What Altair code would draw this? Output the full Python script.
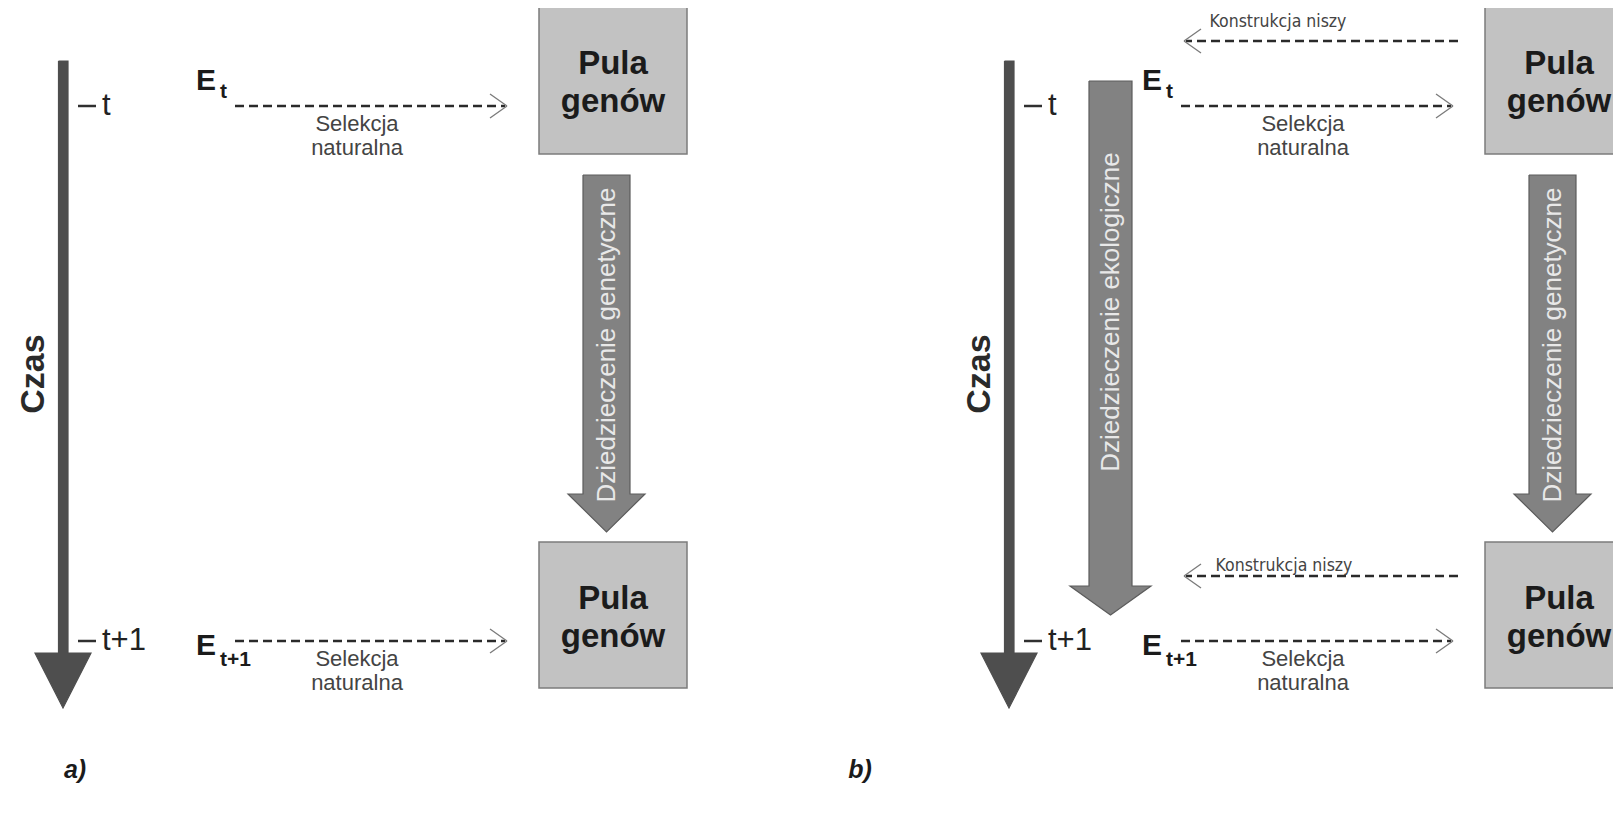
import altair as alt
import pandas as pd

# ---------------- diagram data (reference pixel space, y grows downward) ----------------
PANEL_DX = [0, 946]                 # horizontal offset of panel a) and panel b)
PANEL_NAMES = ["a)", "b)"]
PANEL_NAME_X = [75, 860]
PANEL_NAME_Y = 770

ROW_Y = [106, 641]                  # time t, time t+1
TICK_LABELS = ["t", "t+1"]
E_SUBS = ["t", "t+1"]

# gene-pool boxes: x-range and y-ranges per row
BOX_X = [539, 687]
BOX_Y = [[7, 154], [542, 688]]
BOX_TEXT = ["Pula", "genów"]

# block arrows: shaft x0, shaft x1, top, head top, head x0, head x1, tip
TIME_ARROW = [58.5, 68, 61, 653, 35, 91, 708]
GEN_ARROW = [583, 630, 175, 494, 568, 645, 532]
ECO_ARROW = [1089, 1132, 81, 586, 1070, 1151, 615]   # panel b only

# dashed arrows (from, to)
SEL_X = [235, 507]
NICHE_X = [1458, 1184]      # panel b only, leftward
NICHE_Y = [41, 576]

SEL_TEXT = ["Selekcja", "naturalna"]
NICHE_TEXT = "Konstrukcja niszy"
GEN_TEXT = "Dziedzieczenie genetyczne"
ECO_TEXT = "Dziedzieczenie ekologiczne"
TIME_TEXT = "Czas"

FONT = "Liberation Sans"
NARROW = "DejaVu Sans Condensed, Liberation Sans, sans-serif"

X = alt.Scale(domain=[8, 1613], nice=False, zero=False)
Y = alt.Scale(domain=[8, 807], nice=False, zero=False, reverse=True)


def xy(xf="x", yf="y"):
    return dict(x=alt.X(f"{xf}:Q", scale=X, axis=None),
                y=alt.Y(f"{yf}:Q", scale=Y, axis=None))


# ---------------- build tables ----------------
arrows = []
for p, dx in enumerate(PANEL_DX):
    arrows.append(("time%d" % p, [v + dx if i in (0, 1, 4, 5) else v for i, v in enumerate(TIME_ARROW)], "#4e4e4e", "#4e4e4e"))
    arrows.append(("gen%d" % p, [v + dx if i in (0, 1, 4, 5) else v for i, v in enumerate(GEN_ARROW)], "#828282", "#5c5c5c"))
arrows.append(("eco", ECO_ARROW, "#828282", "#5c5c5c"))

shafts, heads, outlines = [], [], []
for name, (sx0, sx1, top, hy, hx0, hx1, tip), fill, stroke in arrows:
    shafts.append(dict(id=name, x=sx0, x2=sx1, y=top, y2=hy + 1, fill=fill))
    mid = (hx0 + hx1) / 2
    for xv, yb in [(hx0, hy), (mid, tip), (hx1, hy)]:
        heads.append(dict(id=name, x=xv, y=hy, y2=yb, fill=fill))
    pts = [(sx0, top), (sx1, top), (sx1, hy), (hx1, hy), (mid, tip), (hx0, hy), (sx0, hy), (sx0, top)]
    for k, (xv, yv) in enumerate(pts):
        outlines.append(dict(id=name, k=k, x=xv, y=yv, stroke=stroke))

shaft_df = pd.DataFrame(shafts)
head_df = pd.DataFrame(heads)
outline_df = pd.DataFrame(outlines)

boxes, box_txt = [], []
for dx in PANEL_DX:
    for (y0, y1) in BOX_Y:
        boxes.append(dict(x=BOX_X[0] + dx, x2=BOX_X[1] + dx, y=y0, y2=y1))
        cx = (BOX_X[0] + BOX_X[1]) / 2 + dx
        box_txt.append(dict(x=cx, y=y0 + 67, t=BOX_TEXT[0]))
        box_txt.append(dict(x=cx, y=y0 + 105, t=BOX_TEXT[1]))
box_df = pd.DataFrame(boxes)
box_txt_df = pd.DataFrame(box_txt)

dashes, chevrons = [], []
for dx in PANEL_DX:
    for ry in ROW_Y:
        dashes.append(dict(x=SEL_X[0] + dx, x2=SEL_X[1] + dx - 2, y=ry))
        tip = SEL_X[1] + dx
        for s in (-1, 1):
            chevrons.append(dict(x=tip, y=ry, x2=tip - 17, y2=ry + 12 * s))
for ny in NICHE_Y:
    dashes.append(dict(x=NICHE_X[0], x2=NICHE_X[1] + 2, y=ny))
    for s in (-1, 1):
        chevrons.append(dict(x=NICHE_X[1], y=ny, x2=NICHE_X[1] + 17, y2=ny + 12 * s))
dash_df = pd.DataFrame(dashes)
chev_df = pd.DataFrame(chevrons)

ticks, tick_txt, e_txt, e_sub, sel_txt, czas, pname = [], [], [], [], [], [], []
for p, dx in enumerate(PANEL_DX):
    for r, ry in enumerate(ROW_Y):
        ticks.append(dict(x=78 + dx, x2=96 + dx, y=ry))
        tick_txt.append(dict(x=102 + dx, y=ry, t=TICK_LABELS[r]))
        e_txt.append(dict(x=196 + dx, y=ry + (-16 if r == 0 else 14), t="E"))
        e_sub.append(dict(x=220 + dx, y=ry + (-8 if r == 0 else 25), t=E_SUBS[r]))
        sel_txt.append(dict(x=357 + dx, y=ry + 18, t=SEL_TEXT[0]))
        sel_txt.append(dict(x=357 + dx, y=ry + 42, t=SEL_TEXT[1]))
    czas.append(dict(x=34 + dx, y=374, t=TIME_TEXT))
    pname.append(dict(x=PANEL_NAME_X[p], y=PANEL_NAME_Y, t=PANEL_NAMES[p]))
tick_df = pd.DataFrame(ticks)
tick_txt_df = pd.DataFrame(tick_txt)
e_df = pd.DataFrame(e_txt)
esub_df = pd.DataFrame(e_sub)
sel_df = pd.DataFrame(sel_txt)
czas_df = pd.DataFrame(czas)
pname_df = pd.DataFrame(pname)
niche_df = pd.DataFrame([dict(x=1278, y=NICHE_Y[0] - 14, t=NICHE_TEXT),
                         dict(x=1284, y=NICHE_Y[1] - 5, t=NICHE_TEXT)])
vert_df = pd.DataFrame([dict(x=(GEN_ARROW[0] + GEN_ARROW[1]) / 2 + dx, y=345, t=GEN_TEXT) for dx in PANEL_DX]
                       + [dict(x=(ECO_ARROW[0] + ECO_ARROW[1]) / 2, y=312, t=ECO_TEXT)])

# ---------------- layers ----------------
layers = []
layers.append(alt.Chart(box_df).mark_rect(fill="#c2c2c2", stroke="#7c7c7c", strokeWidth=1.5).encode(
    **xy(), x2="x2:Q", y2="y2:Q"))
layers.append(alt.Chart(shaft_df).mark_rect().encode(
    **xy(), x2="x2:Q", y2="y2:Q", fill=alt.Fill("fill:N", scale=None)))
layers.append(alt.Chart(head_df).mark_area(orient="vertical").encode(
    **xy(), y2="y2:Q", detail="id:N", fill=alt.Fill("fill:N", scale=None)))
layers.append(alt.Chart(outline_df).mark_line(strokeWidth=1.2).encode(
    **xy(), order="k:Q", detail="id:N", stroke=alt.Stroke("stroke:N", scale=None)))
layers.append(alt.Chart(dash_df).mark_rule(strokeDash=[9, 5], strokeWidth=2.3, color="#2a2a2a").encode(
    **xy(), x2="x2:Q"))
layers.append(alt.Chart(chev_df).mark_rule(strokeWidth=1.3, color="#7a7a7a").encode(
    **xy(), x2="x2:Q", y2="y2:Q"))
layers.append(alt.Chart(tick_df).mark_rule(strokeWidth=2.5, color="#303030").encode(
    **xy(), x2="x2:Q"))

layers.append(alt.Chart(box_txt_df).mark_text(font=FONT, fontSize=33, fontWeight="bold", color="#1b1b1b",
                                               baseline="alphabetic").encode(**xy(), text="t:N"))
layers.append(alt.Chart(tick_txt_df).mark_text(font=FONT, fontSize=31, color="#222222", align="left",
                                                baseline="middle").encode(**xy(), text="t:N"))
layers.append(alt.Chart(e_df).mark_text(font=FONT, fontSize=30, fontWeight="bold", color="#1b1b1b", align="left",
                                        baseline="alphabetic").encode(**xy(), text="t:N"))
layers.append(alt.Chart(esub_df).mark_text(font=FONT, fontSize=21, fontWeight="bold", color="#1b1b1b", align="left",
                                           baseline="alphabetic").encode(**xy(), text="t:N"))
layers.append(alt.Chart(sel_df).mark_text(font=FONT, fontSize=22, color="#444444",
                                          baseline="middle").encode(**xy(), text="t:N"))
layers.append(alt.Chart(niche_df).mark_text(font=NARROW, fontSize=17.5, color="#444444",
                                            baseline="alphabetic").encode(**xy(), text="t:N"))
layers.append(alt.Chart(czas_df).mark_text(font=FONT, fontSize=34, fontWeight="bold", color="#2a2a2a", angle=270,
                                           baseline="middle").encode(**xy(), text="t:N"))
layers.append(alt.Chart(vert_df).mark_text(font=FONT, fontSize=26, color="#e8e8e8", angle=270,
                                           baseline="middle").encode(**xy(), text="t:N"))
layers.append(alt.Chart(pname_df).mark_text(font=FONT, fontSize=25, fontWeight="bold", fontStyle="italic",
                                            color="#1b1b1b", baseline="middle").encode(**xy(), text="t:N"))

chart = alt.layer(*layers).properties(
    width=1605, height=799, padding=0, autosize=alt.AutoSizeParams(type="none"), background="white"
).configure_view(stroke=None)

chart.save("out.html", embed_options={"renderer": "svg", "actions": False})
